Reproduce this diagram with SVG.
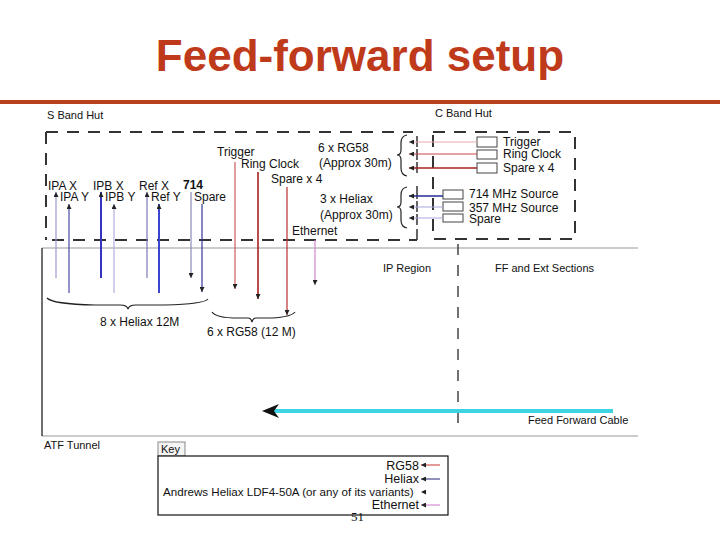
<svg xmlns="http://www.w3.org/2000/svg" width="720" height="540" viewBox="0 0 720 540">
<style>
text{font-family:"Liberation Sans",Arial,sans-serif;fill:#111}
.lbl{font-size:12px}
.sm{font-size:11px}
.dash{fill:none;stroke:#333;stroke-width:2;stroke-dasharray:12 9}
.tick{stroke:#333;stroke-width:1.5}
.brace{fill:none;stroke:#222;stroke-width:1.2}
.box{fill:#fff;stroke:#444;stroke-width:1}
.gray{stroke:#999;stroke-width:1.2}
</style>
<defs>
<marker id="ah" markerUnits="userSpaceOnUse" markerWidth="5" markerHeight="5" refX="5" refY="2.5" orient="auto">
<path d="M0,0 L5,2.5 L0,5 z" fill="#222"/>
</marker>
</defs>
<rect width="720" height="540" fill="#fff"/>
<g id="title">
<text x="360" y="71" text-anchor="middle" style="font-size:44px;font-weight:bold;fill:#bf3a1a">Feed-forward setup</text>
<rect x="0" y="100" width="720" height="4" fill="#b9401c"/>
</g>
<g id="s-band-hut">
<text x="47" y="119" class="sm">S Band Hut</text>
<path class="dash" d="M46,132 H413 M46,132 V240 M52,240 H417"/>
<path class="tick" d="M417,136 V147 M417,149 V160 M417,162 V173 M417,186 V199 M417,201 V212 M417,214 V225 M417,229 V240"/>
<text x="48" y="190" class="lbl">IPA X</text>
<text x="60" y="201" class="lbl">IPA Y</text>
<text x="93" y="190" class="lbl">IPB X</text>
<text x="105" y="201" class="lbl">IPB Y</text>
<text x="139" y="190" class="lbl">Ref X</text>
<text x="151" y="201" class="lbl">Ref Y</text>
<text x="183" y="189" class="lbl" style="font-weight:bold">714</text>
<text x="194" y="201" class="lbl">Spare</text>
<text x="217" y="156" class="lbl">Trigger</text>
<text x="241" y="168" class="lbl">Ring Clock</text>
<text x="271" y="183" class="lbl">Spare x 4</text>
<text x="292" y="235" class="lbl">Ethernet</text>
<text x="318" y="152" class="lbl">6 x RG58</text>
<text x="319" y="167" class="lbl">(Approx 30m)</text>
<text x="320" y="203" class="lbl">3 x Heliax</text>
<text x="320" y="219" class="lbl">(Approx 30m)</text>
<path class="brace" d="M407,135 Q401,136 401,143 L401,150 Q401,155 397,155 Q401,155 401,160 L401,168 Q401,175 407,176"/>
<path class="brace" d="M407,187 Q401,188 401,195 L401,202 Q401,207 397,207 Q401,207 401,212 L401,220 Q401,227 407,228"/>
</g>
<g id="c-band-hut">
<text x="435" y="117" class="sm">C Band Hut</text>
<path class="dash" d="M433,132 H575 V239 H433 V132"/>
<rect class="box" x="477" y="137" width="20" height="10"/>
<rect class="box" x="477" y="150" width="20" height="9"/>
<rect class="box" x="477" y="163" width="20" height="10"/>
<rect class="box" x="443" y="190" width="20" height="9"/>
<rect class="box" x="443" y="202" width="20" height="9"/>
<rect class="box" x="443" y="214" width="20" height="8"/>
<text x="503" y="146" class="lbl">Trigger</text>
<text x="503" y="158" class="lbl">Ring Clock</text>
<text x="503" y="172" class="lbl">Spare x 4</text>
<text x="469" y="198" class="lbl">714 MHz Source</text>
<text x="469" y="212" class="lbl">357 MHz Source</text>
<text x="469" y="223" class="lbl">Spare</text>
</g>
<g id="tunnel">
<line class="gray" x1="42" y1="248" x2="638" y2="248"/>
<line class="gray" x1="42" y1="436" x2="638" y2="436"/>
<line x1="42" y1="248" x2="42" y2="436" stroke="#111" stroke-width="1.2"/>
<line x1="458" y1="244" x2="458" y2="432" stroke="#444" stroke-width="1.5" stroke-dasharray="11 10"/>
<text x="383" y="272" class="sm">IP Region</text>
<text x="495" y="272" class="sm">FF and Ext Sections</text>
<text x="528" y="424" class="sm">Feed Forward Cable</text>
<text x="44" y="449" class="sm">ATF Tunnel</text>
<path class="brace" d="M47,298 Q52,304 95,305 L120,305 Q127,305 128,309 Q129,305 136,305 L165,305 Q204,304 208,299"/>
<text x="100" y="326" class="lbl">8 x Heliax 12M</text>
<path class="brace" d="M212,312 Q216,318 238,318 L248,318 Q251,318 252,322 Q253,318 256,318 L272,318 Q291,317 295,312"/>
<text x="207" y="336" class="lbl">6 x RG58 (12 M)</text>
</g>
<g id="connectors">
<line x1="56" y1="278" x2="56" y2="192" stroke="#9a9acc" stroke-width="1.2" marker-end="url(#ah)"/>
<line x1="69" y1="293" x2="69" y2="204" stroke="#4a4aa8" stroke-width="1.2" marker-end="url(#ah)"/>
<line x1="101" y1="278" x2="101" y2="192" stroke="#3434c0" stroke-width="2" marker-end="url(#ah)"/>
<line x1="114" y1="293" x2="114" y2="204" stroke="#b0b0dc" stroke-width="1.2" marker-end="url(#ah)"/>
<line x1="147" y1="278" x2="147" y2="192" stroke="#7a7ab8" stroke-width="1.2" marker-end="url(#ah)"/>
<line x1="159" y1="293" x2="159" y2="204" stroke="#3a44cc" stroke-width="2" marker-end="url(#ah)"/>
<line x1="191" y1="192" x2="191" y2="278" stroke="#8a8abc" stroke-width="1.2" marker-end="url(#ah)"/>
<line x1="202" y1="204" x2="202" y2="292" stroke="#343498" stroke-width="1.2" marker-end="url(#ah)"/>
<line x1="235" y1="162" x2="235" y2="289" stroke="#cc5a5a" stroke-width="1.2" marker-end="url(#ah)"/>
<line x1="258" y1="172" x2="258" y2="299" stroke="#a82020" stroke-width="1.6" marker-end="url(#ah)"/>
<line x1="287" y1="187" x2="287" y2="315" stroke="#bb3030" stroke-width="1.2" marker-end="url(#ah)"/>
<line x1="315" y1="240" x2="315" y2="285" stroke="#cc88cc" stroke-width="1.2" marker-end="url(#ah)"/>
<line x1="477" y1="142" x2="409" y2="142" stroke="#e8a8a8" stroke-width="1.2" marker-end="url(#ah)"/>
<line x1="477" y1="154" x2="409" y2="154" stroke="#cc4444" stroke-width="1.2" marker-end="url(#ah)"/>
<line x1="477" y1="168" x2="409" y2="168" stroke="#a82222" stroke-width="1.4" marker-end="url(#ah)"/>
<line x1="443" y1="196" x2="409" y2="196" stroke="#2a2a99" stroke-width="1.4" marker-end="url(#ah)"/>
<line x1="443" y1="207" x2="409" y2="207" stroke="#a8a8dc" stroke-width="1.2" marker-end="url(#ah)"/>
<line x1="443" y1="218" x2="409" y2="218" stroke="#a8a8dc" stroke-width="1.2" marker-end="url(#ah)"/>
<line x1="613" y1="411" x2="274" y2="411" stroke="#3cd4e2" stroke-width="4"/>
<polygon points="262,411 279,404 274,411 279,418" fill="#111"/>
</g>
<g id="key">
<rect x="158" y="442" width="27" height="14" fill="#f4f4f4" stroke="#888" stroke-width="1"/>
<text x="161" y="453" class="sm">Key</text>
<rect x="158" y="456" width="290" height="59" fill="#fff" stroke="#111" stroke-width="1.2"/>
<text x="419" y="470" text-anchor="end" style="font-size:12.5px">RG58</text>
<text x="419" y="483" text-anchor="end" style="font-size:12.5px">Heliax</text>
<text x="163" y="496" style="font-size:11.6px">Andrews Heliax LDF4-50A (or any of its variants)</text>
<text x="419" y="509" text-anchor="end" style="font-size:12.5px">Ethernet</text>
<line x1="440" y1="465" x2="421" y2="465" stroke="#cc3333" stroke-width="1" marker-end="url(#ah)"/>
<line x1="440" y1="479" x2="421" y2="479" stroke="#222277" stroke-width="1" marker-end="url(#ah)"/>
<line x1="440" y1="492" x2="421" y2="492" stroke="#fff" stroke-width="1" marker-end="url(#ah)"/>
<line x1="440" y1="505" x2="421" y2="505" stroke="#cc77cc" stroke-width="1" marker-end="url(#ah)"/>
<text x="351" y="521" style="font-family:'Liberation Serif',serif;font-size:13px">51</text>
</g>
</svg>
